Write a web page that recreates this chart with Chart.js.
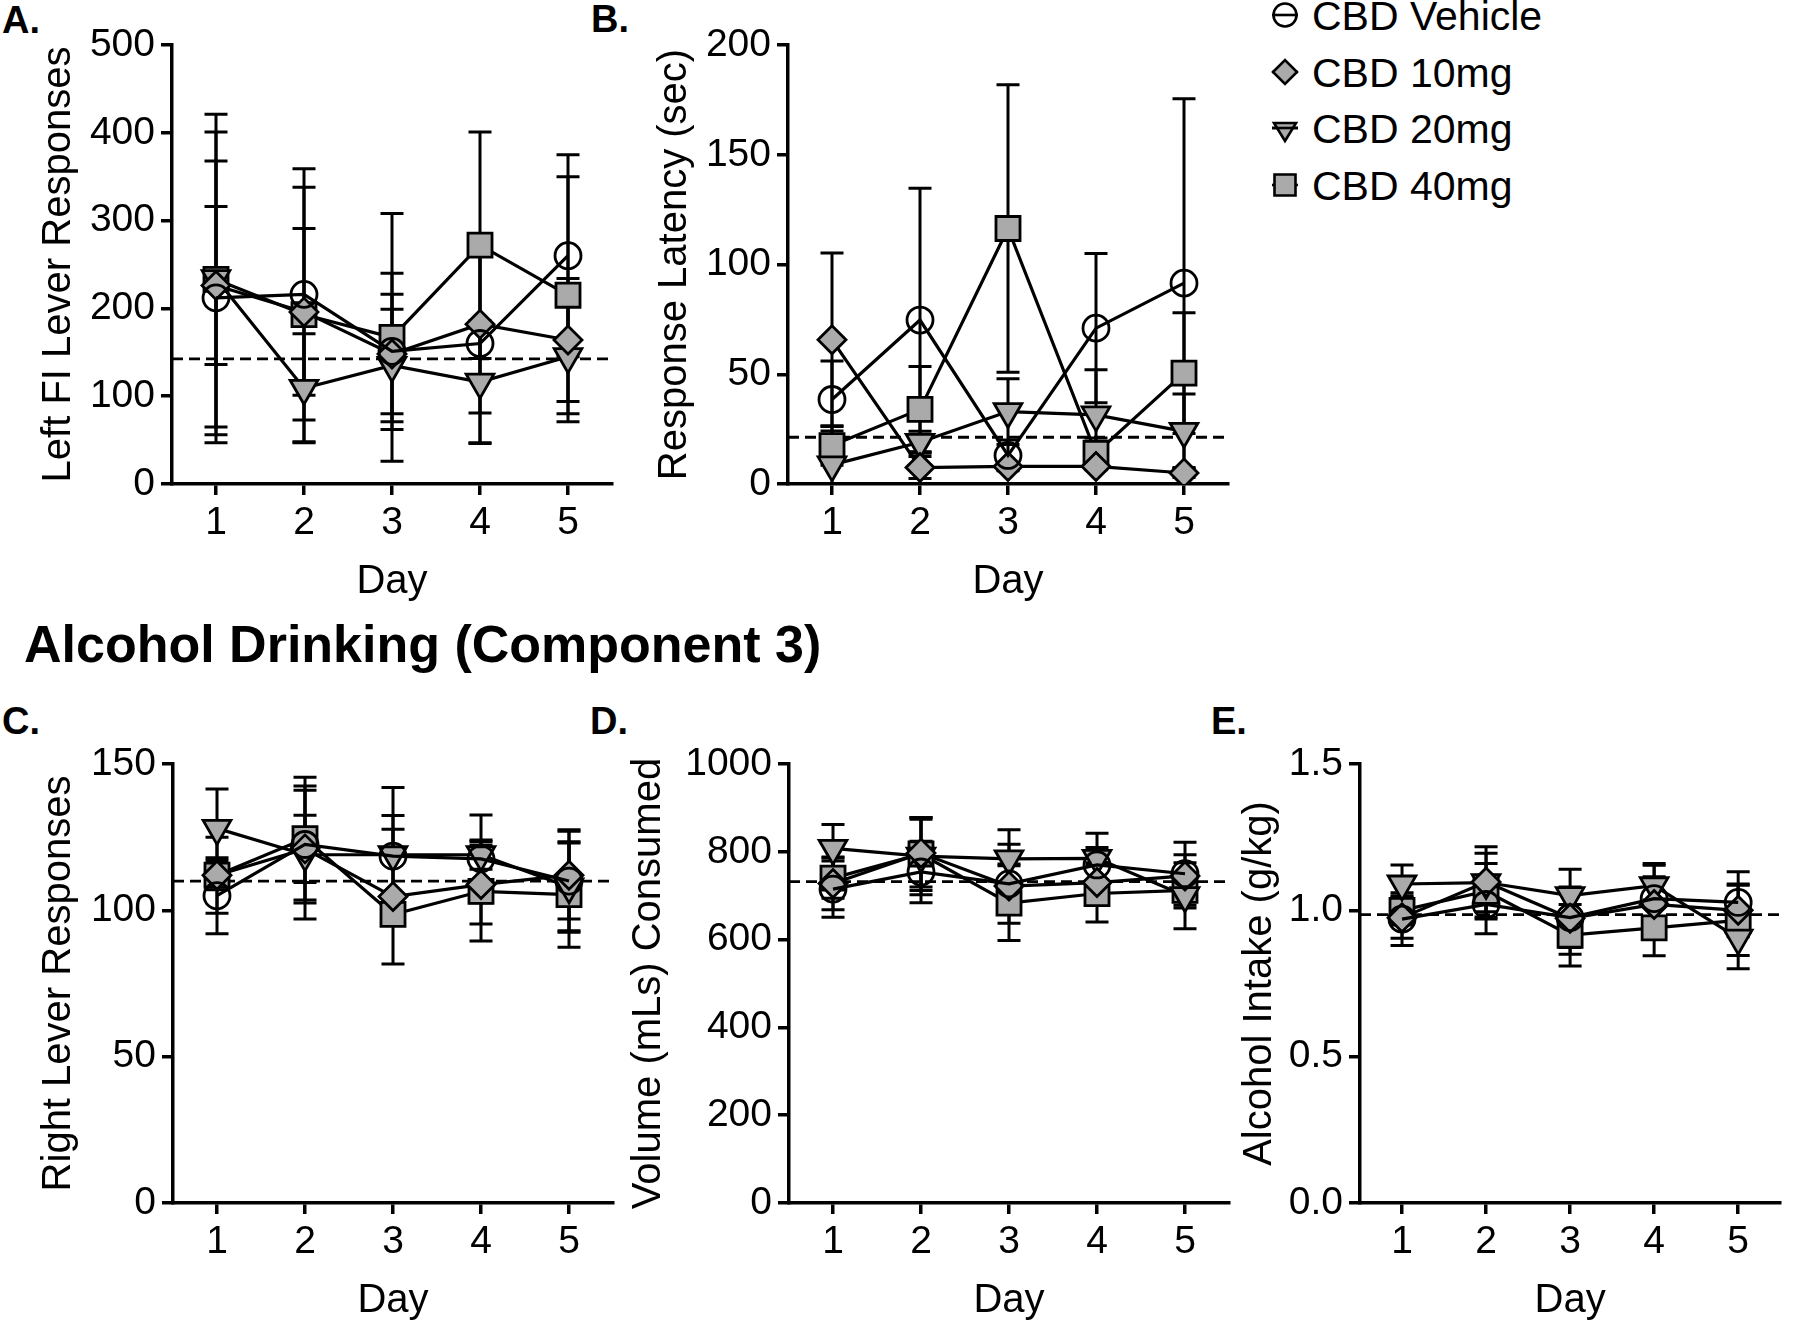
<!DOCTYPE html>
<html>
<head>
<meta charset="utf-8">
<title>CBD and alcohol drinking</title>
<script src="https://cdn.jsdelivr.net/npm/chart.js@4.4.1/dist/chart.umd.min.js"></script>
<style>
  body { margin: 0; width: 1800px; height: 1321px; overflow: hidden; background: #fff;
         font-family: "Liberation Sans", Arial, sans-serif; color: #000; position: relative; }
  canvas { position: absolute; }
  .txt { position: absolute; line-height: 1; white-space: nowrap; }
  .panel { font-weight: bold; font-size: 38px; }
  .heading { font-weight: bold; font-size: 52px; }
  .legend-row { position: absolute; left: 1265px; height: 48px; }
  .legend-row span { position: absolute; left: 47px; top: 5px; font-size: 41px; line-height: 1; white-space: nowrap; }
</style>
</head>
<body>
<div class="txt panel" style="left:2px;top:1px">A.</div>
<div class="txt panel" style="left:591px;top:0px">B.</div>
<div class="txt heading" style="left:24px;top:618px">Alcohol Drinking (Component 3)</div>
<div class="txt panel" style="left:2px;top:702px">C.</div>
<div class="txt panel" style="left:590px;top:702px">D.</div>
<div class="txt panel" style="left:1211px;top:702px">E.</div>

<canvas id="chartA" width="640" height="611" style="left:0px;top:0px"></canvas>
<canvas id="chartB" width="640" height="611" style="left:616px;top:0px"></canvas>
<canvas id="chartC" width="640" height="611" style="left:1px;top:719px"></canvas>
<canvas id="chartD" width="640" height="611" style="left:617px;top:719px"></canvas>
<canvas id="chartE" width="612" height="611" style="left:1188px;top:719px"></canvas>
<div id="legend"></div>

<script>
const days = [1, 2, 3, 4, 5];
const groupNames = ["CBD Vehicle", "CBD 10mg", "CBD 20mg", "CBD 40mg"];

// A. left FI lever responses (mean, SEM), rows follow groupNames
const leftFiMean = [
  [212, 216, 151, 160, 260],
  [226, 196, 148, 182, 164],
  [234, 109, 135, 116, 145],
  [233, 193, 167, 272, 215],
];
const leftFiSem = [
  [156, 143, 89, 113, 115],
  [90, 95, 68, 101, 70],
  [187, 62, 64, 70, 74],
  [168, 145, 141, 129, 135],
];
const leftFiBaseline = 142.5;
const leftFiTicks = [0, 100, 200, 300, 400, 500];

// B. response latency (sec)
const latencyMean = [
  [38.5, 74.7, 13, 71, 91.5],
  [65.7, 7.5, 8, 8, 5],
  [8.7, 19, 33, 31.5, 24],
  [17.5, 34, 116.4, 14, 50.5],
];
const latencySem = [
  [17.5, 60, 7, 34, 84],
  [39.5, 5, 1.5, 1.5, 2],
  [15.5, 5, 15, 20.5, 17],
  [9, 19.5, 65.5, 7, 27.5],
];
const latencyBaseline = 21.3;
const latencyTicks = [0, 50, 100, 150, 200];

// C. right lever responses
const rightMean = [
  [105, 122.5, 118.5, 117.6, 110],
  [112, 121, 104.7, 108.8, 112],
  [128, 119, 119, 119, 108],
  [112, 124.5, 98.6, 106.5, 105.4],
];
const rightSem = [
  [13, 20, 23.5, 15, 17.5],
  [5, 11.5, 23, 13.5, 15],
  [13.5, 22, 13.4, 5, 15],
  [13, 21, 3, 17, 18],
];
const rightBaseline = 110;
const rightTicks = [0, 50, 100, 150];

// D. volume consumed (mLs)
const volumeMean = [
  [715, 754, 727, 770, 750],
  [728, 797, 722, 730, 745],
  [808, 790, 784, 785, 700],
  [740, 795, 683, 705, 712],
];
const volumeSem = [
  [64, 70, 90, 40, 72],
  [60, 77, 50, 45, 48],
  [54, 88, 66, 57, 75],
  [46, 83, 85, 65, 40],
];
const volumeBaseline = 732;
const volumeTicks = [0, 200, 400, 600, 800, 1000];

// E. alcohol intake (g/kg)
const intakeMean = [
  [0.97, 1.02, 0.975, 1.04, 1.027],
  [0.975, 1.097, 0.973, 1.02, 1.0],
  [1.09, 1.095, 1.05, 1.084, 0.905],
  [1.0, 1.065, 0.915, 0.94, 0.966],
];
const intakeSem = [
  [0.09, 0.1, 0.165, 0.12, 0.105],
  [0.07, 0.12, 0.1, 0.095, 0.09],
  [0.065, 0.1, 0.03, 0.07, 0.105],
  [0.05, 0.095, 0.065, 0.095, 0.12],
];
const intakeBaseline = 0.985;
const intakeTicks = [0, 0.5, 1.0, 1.5];

const GRAY = "#aaaaaa";
const markers = [
  { style: "circle", radius: 13, rotation: 0, fill: "rgba(255,255,255,0)" },
  { style: "rectRot", radius: 14, rotation: 0, fill: GRAY },
  { style: "triangle", radius: 16, rotation: 180, fill: GRAY },
  { style: "rect", radius: 17, rotation: 0, fill: GRAY },
];

Chart.defaults.font.family = "'Liberation Sans', Arial, sans-serif";
Chart.defaults.color = "#000";

// error bars (mean +/- SEM) drawn under the lines and markers
const errorBars = {
  id: "errorBars",
  beforeDatasetsDraw(chart) {
    const { ctx, chartArea, scales } = chart;
    ctx.save();
    ctx.beginPath();
    ctx.rect(chartArea.left, chartArea.top - 2, chartArea.right - chartArea.left, chartArea.bottom - chartArea.top + 2);
    ctx.clip();
    ctx.strokeStyle = "#000";
    ctx.lineWidth = 3;
    chart.data.datasets.forEach((ds, i) => {
      if (!ds.err) return;
      const meta = chart.getDatasetMeta(i);
      meta.data.forEach((pt, j) => {
        const m = ds.data[j].y;
        const e = ds.err[j];
        const hi = scales.y.getPixelForValue(m + e);
        const lo = scales.y.getPixelForValue(m - e);
        ctx.beginPath();
        ctx.moveTo(pt.x, hi);
        ctx.lineTo(pt.x, lo);
        ctx.moveTo(pt.x - 11.5, hi);
        ctx.lineTo(pt.x + 11.5, hi);
        ctx.moveTo(pt.x - 11.5, lo);
        ctx.lineTo(pt.x + 11.5, lo);
        ctx.stroke();
      });
    });
    ctx.restore();
  },
};

function axisGrid() {
  return { drawOnChartArea: false, drawTicks: true, tickLength: 11, lineWidth: 3.5, color: "#000" };
}

function makeChart(id, panel) {
  const datasets = panel.mean.map((vals, g) => ({
    label: groupNames[g],
    data: days.map((d, i) => ({ x: d, y: vals[i] })),
    err: panel.sem[g],
    borderColor: "#000",
    borderWidth: 3.2,
    pointStyle: markers[g].style,
    pointRadius: markers[g].radius,
    pointRotation: markers[g].rotation,
    pointBackgroundColor: markers[g].fill,
    pointBorderColor: "#000",
    pointBorderWidth: 2.8,
    tension: 0,
  }));
  datasets.push({
    label: "baseline",
    data: [{ x: 0.5, y: panel.base }, { x: 5.5, y: panel.base }],
    borderColor: "#000",
    borderWidth: 2.8,
    borderDash: [11, 6],
    pointRadius: 0,
    order: 10,
  });

  return new Chart(document.getElementById(id), {
    type: "line",
    data: { datasets },
    plugins: [errorBars],
    options: {
      responsive: false,
      animation: false,
      devicePixelRatio: 1,
      events: [],
      layout: { padding: { top: 45, right: panel.padRight, bottom: 0, left: 0 } },
      plugins: { legend: { display: false }, tooltip: { enabled: false } },
      scales: {
        x: {
          type: "linear",
          min: 0.5,
          max: 5.5,
          afterBuildTicks: (s) => { s.ticks = days.map((v) => ({ value: v })); },
          afterFit: (s) => { s.height = 127; },
          ticks: { font: { size: 39 }, color: "#000", padding: 5, callback: (v) => String(v) },
          grid: axisGrid(),
          border: { display: true, color: "#000", width: 3.5 },
          title: { display: true, text: "Day", font: { size: 40 }, color: "#000", padding: { top: 0, bottom: 5 } },
        },
        y: {
          min: panel.ticks[0],
          max: panel.ticks[panel.ticks.length - 1],
          afterBuildTicks: (s) => { s.ticks = panel.ticks.map((v) => ({ value: v })); },
          afterFit: (s) => { s.width = 172; },
          ticks: { font: { size: 39 }, color: "#000", padding: 6, callback: panel.fmt || ((v) => String(v)) },
          grid: axisGrid(),
          border: { display: true, color: "#000", width: 3.5 },
          title: { display: true, text: panel.title, font: { size: 40 }, color: "#000", padding: { top: panel.titlePad, bottom: 0 } },
        },
      },
    },
  });
}

makeChart("chartA", { mean: leftFiMean, sem: leftFiSem, base: leftFiBaseline, ticks: leftFiTicks,
  title: "Left FI Lever Responses", titlePad: 35, padRight: 28 });
makeChart("chartB", { mean: latencyMean, sem: latencySem, base: latencyBaseline, ticks: latencyTicks,
  title: "Response Latency (sec)", titlePad: 35, padRight: 28 });
makeChart("chartC", { mean: rightMean, sem: rightSem, base: rightBaseline, ticks: rightTicks,
  title: "Right Lever Responses", titlePad: 34, padRight: 28 });
makeChart("chartD", { mean: volumeMean, sem: volumeSem, base: volumeBaseline, ticks: volumeTicks,
  title: "Volume (mLs) Consumed", titlePad: 8, padRight: 28 });
makeChart("chartE", { mean: intakeMean, sem: intakeSem, base: intakeBaseline, ticks: intakeTicks,
  title: "Alcohol Intake (g/kg)", titlePad: 48, padRight: 0, fmt: (v) => v.toFixed(1) });

// legend: symbol with its line stub, then the group name
function drawSymbol(ctx, g, cx, cy) {
  const mk = markers[g];
  ctx.lineWidth = 2.6;
  ctx.strokeStyle = "#000";
  const stub = () => { ctx.beginPath(); ctx.moveTo(cx - 13, cy); ctx.lineTo(cx + 13, cy); ctx.stroke(); };
  if (mk.style !== "circle") stub();
  ctx.beginPath();
  if (mk.style === "circle") {
    ctx.arc(cx, cy, 11.5, 0, Math.PI * 2);
  } else if (mk.style === "rectRot") {
    ctx.moveTo(cx - 12, cy); ctx.lineTo(cx, cy - 12); ctx.lineTo(cx + 12, cy); ctx.lineTo(cx, cy + 12);
  } else if (mk.style === "triangle") {
    ctx.moveTo(cx - 11, cy - 5); ctx.lineTo(cx + 11, cy - 5); ctx.lineTo(cx, cy + 13);
  } else {
    ctx.rect(cx - 10.5, cy - 10.5, 21, 21);
  }
  ctx.closePath();
  ctx.fillStyle = mk.fill;
  ctx.fill();
  ctx.stroke();
  if (mk.style === "circle") stub();
  if (mk.style === "triangle") stub();
}

const legendEl = document.getElementById("legend");
const legendTops = [-9, 48, 104, 161];
groupNames.forEach((name, g) => {
  const row = document.createElement("div");
  row.className = "legend-row";
  row.style.top = legendTops[g] + "px";
  const c = document.createElement("canvas");
  c.width = 40; c.height = 48;
  c.style.left = "0px"; c.style.top = "0px";
  drawSymbol(c.getContext("2d"), g, 20, 24);
  const label = document.createElement("span");
  label.textContent = name;
  row.appendChild(c);
  row.appendChild(label);
  legendEl.appendChild(row);
});
</script>
</body>
</html>
